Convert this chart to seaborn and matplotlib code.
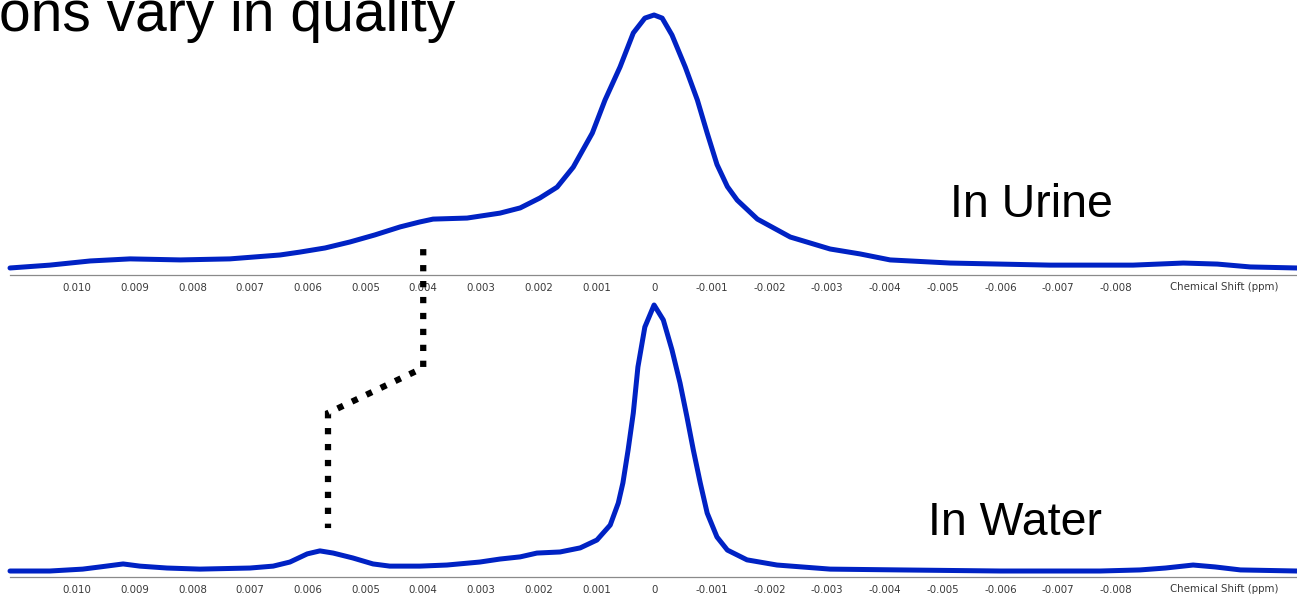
import numpy as np
import pandas as pd
import matplotlib
matplotlib.use("Agg")
import matplotlib.pyplot as plt
import matplotlib.ticker as mticker
from matplotlib.lines import Line2D
from matplotlib.transforms import blended_transform_factory
import seaborn as sns

# ---------------- data (chemical shift in units of 0.001 ppm, intensity in % of peak) ----------------
urine_shift = [11.16, 10.47, 9.77, 9.08, 8.21, 7.35, 6.48, 6.14, 5.70, 5.27, 4.84, 4.40, 4.06,
               3.83, 3.24, 2.67, 2.32, 1.98, 1.68, 1.40, 1.07, 0.85, 0.59, 0.36, 0.16, 0.0,
               -0.14, -0.31, -0.54, -0.75, -0.92, -1.09, -1.27, -1.44, -1.79, -2.36, -3.05, -3.57,
               -4.09, -5.13, -6.86, -8.30, -9.17, -9.76, -10.33, -11.14]
urine_int = [2.7, 3.8, 5.4, 6.2, 5.8, 6.2, 7.7, 8.8, 10.4, 12.7, 15.4, 18.5, 20.4,
             21.5, 21.9, 23.8, 25.8, 29.6, 33.8, 41.5, 54.6, 67.3, 80.0, 93.1, 98.8, 100.0,
             98.8, 92.3, 80.0, 67.3, 54.6, 42.5, 34.0, 28.8, 21.5, 14.6, 10.0, 8.1,
             5.8, 4.6, 3.8, 3.8, 4.6, 4.2, 3.1, 2.7]

water_shift = [11.16, 10.47, 9.90, 9.60, 9.20, 8.91, 8.44, 7.87, 7.00, 6.60, 6.31, 6.01, 5.79,
               5.56, 5.22, 4.87, 4.58, 4.06, 3.59, 3.02, 2.67, 2.32, 2.03, 1.63, 1.28, 0.99,
               0.76, 0.62, 0.54, 0.45, 0.36, 0.28, 0.16, 0.0, -0.16, -0.31, -0.45, -0.57,
               -0.68, -0.80, -0.92, -1.09, -1.27, -1.61, -2.13, -3.05, -4.26, -6.00, -7.73,
               -8.42, -8.86, -9.34, -9.72, -10.16, -11.14]
water_int = [2.2, 2.2, 2.9, 3.7, 4.8, 4.0, 3.3, 2.9, 3.3, 4.0, 5.5, 8.5, 9.6,
             8.8, 7.0, 4.8, 4.0, 4.0, 4.4, 5.5, 6.6, 7.4, 8.8, 9.2, 10.7, 13.6,
             19.1, 27.2, 34.6, 46.7, 60.3, 77.2, 91.9, 100.0, 94.5, 83.5, 71.3, 58.8,
             46.7, 34.6, 23.5, 14.7, 9.9, 6.3, 4.4, 2.9, 2.6, 2.2, 2.2,
             2.6, 3.3, 4.4, 3.7, 2.6, 2.2]

tick_values = [0.010, 0.009, 0.008, 0.007, 0.006, 0.005, 0.004, 0.003, 0.002, 0.001, 0.0,
               -0.001, -0.002, -0.003, -0.004, -0.005, -0.006, -0.007, -0.008]
tick_labels = ["0.010", "0.009", "0.008", "0.007", "0.006", "0.005", "0.004", "0.003", "0.002",
               "0.001", "0", "-0.001", "-0.002", "-0.003", "-0.004", "-0.005", "-0.006",
               "-0.007", "-0.008"]

# dotted connector: shift positions (ppm) and figure heights
connector_ppm = [0.0040, 0.0040, 0.00565, 0.00565]
connector_fig_y = [0.582, 0.383, 0.307, 0.114]

title_text = "ons vary in quality"
label_urine = "In Urine"
label_water = "In Water"
xlabel_text = "Chemical Shift (ppm)"

# ---------------- style ----------------
sns.set_style("white")
plt.rcParams["font.family"] = ["Liberation Sans", "DejaVu Sans"]
plt.rcParams["text.color"] = "black"

W, H = 1297, 596
fig = plt.figure(figsize=(W / 100, H / 100), dpi=100)

BLUE = "#0022c4"
XL = (0.01116, -0.01114)
TICK_FONT = {"family": "DejaVu Sans", "size": 7.4}

def make_axes(bottom_px, top_px, ymax):
    ax = fig.add_axes([10 / W, 1 - bottom_px / H, 1 - 10 / W, (bottom_px - top_px) / H])
    ax.set_xlim(*XL)
    ax.set_ylim(0, ymax)
    for s in ["top", "left", "right"]:
        ax.spines[s].set_visible(False)
    ax.spines["bottom"].set_color("#8a8a8a")
    ax.spines["bottom"].set_linewidth(0.9)
    ax.set_yticks([])
    ax.xaxis.set_major_locator(mticker.FixedLocator(np.arange(-0.011, 0.0115, 0.001)))
    ax.xaxis.set_minor_locator(mticker.MultipleLocator(0.0001))
    labels_map = dict(zip([round(v, 4) for v in tick_values], tick_labels))
    ax.xaxis.set_major_formatter(mticker.FuncFormatter(
        lambda v, p: labels_map.get(round(v, 4), "")))
    ax.tick_params(axis="x", which="major", length=4, width=0.7, color="#666666",
                   labelcolor="#3a3a3a", pad=1.8, direction="out")
    ax.tick_params(axis="x", which="minor", length=2.2, width=0.6, color="#777777",
                   direction="out")
    return ax

ax_top = make_axes(275, 0, 100 * 275 / 260)
ax_bot = make_axes(577, 298, 100 * 279 / 272)

df_u = pd.DataFrame({"shift": np.array(urine_shift) / 1000, "intensity": urine_int})
df_w = pd.DataFrame({"shift": np.array(water_shift) / 1000, "intensity": water_int})

sns.lineplot(data=df_u, x="shift", y="intensity", ax=ax_top, color=BLUE, linewidth=3.6,
             sort=False, estimator=None)
sns.lineplot(data=df_w, x="shift", y="intensity", ax=ax_bot, color=BLUE, linewidth=3.6,
             sort=False, estimator=None)
for ax in (ax_top, ax_bot):
    for ln in ax.get_lines():
        ln.set_solid_joinstyle("round")
        ln.set_solid_capstyle("round")
        ln.set_clip_on(False)
    ax.set_xlabel("")
    ax.set_ylabel("")
    for lab in ax.get_xticklabels():
        lab.set_fontfamily(TICK_FONT["family"])
        lab.set_fontsize(TICK_FONT["size"])

# axis label at the right end, at the height of the tick labels
for ax, ypx in ((ax_top, 287), (ax_bot, 589)):
    fig.text(1170 / W, 1 - ypx / H, xlabel_text, fontsize=TICK_FONT["size"],
             family=TICK_FONT["family"], color="#3a3a3a", ha="left", va="center")

# dotted connector spanning both panels
trans = blended_transform_factory(ax_top.transData, fig.transFigure)
conn = Line2D(connector_ppm, connector_fig_y, transform=trans, color="black",
              linewidth=4.5, linestyle=(0, (1.0, 1.55)), dash_capstyle="butt",
              dash_joinstyle="miter")
fig.add_artist(conn)

# text labels
fig.text(950 / W, 1 - 217 / H, label_urine, fontsize=33.5, color="black",
         ha="left", va="baseline")
fig.text(928 / W, 1 - 535 / H, label_water, fontsize=33.5, color="black",
         ha="left", va="baseline")
fig.text(455 / W, 1 - 31 / H, title_text, fontsize=41, color="black",
         ha="right", va="baseline")

fig.savefig("out.png", dpi=100)
